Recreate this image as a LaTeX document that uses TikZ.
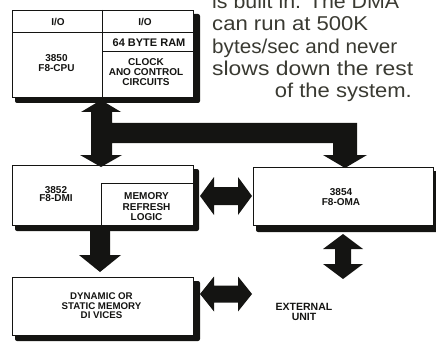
\documentclass[tikz,border=0pt]{standalone}
\usepackage{fontspec}
\setmainfont{Liberation Sans}
\usepackage{graphicx}
\definecolor{ink}{HTML}{141412}
\definecolor{paraink}{HTML}{3A3A32}
\tikzset{
  x=1pt,y=-1pt,
  box/.style={draw=ink, line width=1.4pt, fill=white, inner sep=0pt, anchor=north west},
  shad/.style={fill=ink, rounded corners=2pt},
  arr/.style={fill=ink},
  rule/.style={draw=ink, line width=1.4pt},
  lab/.style={font=\fontsize{10}{10}\selectfont\bfseries, text=ink, align=center, inner sep=0pt},
  paratext/.style={font=\fontsize{20}{22}\selectfont, text=paraink, inner sep=0pt},
}
\begin{document}
\begin{tikzpicture}
\useasboundingbox (0,0) rectangle (436,342);
\clip (0,0) rectangle (436,342);
% shadows
\fill[shad] (15,14) rectangle (200,103);
\fill[shad] (15,169) rectangle (199,231);
\fill[shad] (256,171) rectangle (441,232);
\fill[shad] (15,281) rectangle (200,341);
% boxes
\node[box, minimum width=181pt, minimum height=87pt] (cpu) at (12,10) {};
\node[box, minimum width=181pt, minimum height=60pt] (dmi) at (12,165) {};
\node[box, minimum width=180pt, minimum height=58pt] (dma) at (253,167) {};
\node[box, minimum width=181pt, minimum height=58pt] (mem) at (12,277) {};
% internal rules
\draw[rule] (12,32.5) -- (193,32.5);
\draw[rule] (102.5,10) -- (102.5,97);
\draw[rule] (102.5,51.5) -- (193,51.5);
\draw[rule] (101.5,225) -- (101.5,183.5) -- (193,183.5);
% bus
\fill[arr] (101,100) -- (121,112) -- (112,112) -- (112,123) -- (357,123) -- (357,155)
  -- (367,155) -- (345,168) -- (323,155) -- (333,155) -- (333,143) -- (112,143)
  -- (112,155) -- (122,155) -- (101,167) -- (80,155) -- (91,155) -- (91,112)
  -- (81,112) -- cycle;
% dmi to memory
\fill[arr] (90,231) -- (110,231) -- (110,255) -- (121,255) -- (100,272) -- (79,255) -- (90,255) -- cycle;
% dmi <-> dma
\fill[arr] (200,196) -- (214,177) -- (214,187) -- (238,187) -- (238,177) -- (252,196)
  -- (238,215) -- (238,205) -- (214,205) -- (214,215) -- cycle;
% memory <-> external
\fill[arr] (200,294) -- (214,276.5) -- (214,285.5) -- (238,285.5) -- (238,276.5) -- (252,294)
  -- (238,311.5) -- (238,302.5) -- (214,302.5) -- (214,311.5) -- cycle;
% dma <-> external
\fill[arr] (343,234) -- (363,249) -- (351,249) -- (351,264) -- (363,264) -- (343,279)
  -- (323,264) -- (335,264) -- (335,249) -- (323,249) -- cycle;
% labels
\node[lab] (io1) at (58,22) {I/O};
\node[lab] (io2) at (145,22) {I/O};
\node[lab, font=\fontsize{11}{11}\selectfont\bfseries] (ram) at (149,43) {64 BYTE RAM};
\node[lab, font=\fontsize{10}{10.2}\selectfont\bfseries] (clk) at (146,72.2) {CLOCK\\ANO CONTROL\\CIRCUITS};
\node[lab, font=\fontsize{10}{9.2}\selectfont\bfseries] (cpul) at (56.5,63) {3850\\F8-CPU};
\node[lab, font=\fontsize{10}{8.8}\selectfont\bfseries] (dmil) at (56,194) {3852\\F8-DMI};
\node[lab, font=\fontsize{10}{10.7}\selectfont\bfseries] (mrl) at (146.5,206.7) {MEMORY\\REFRESH\\LOGIC};
\node[lab, font=\fontsize{10}{10.6}\selectfont\bfseries] (dmal) at (341,197) {3854\\F8-OMA};
\node[lab, font=\fontsize{9.7}{9.7}\selectfont\bfseries] (meml) at (101.5,305.7) {DYNAMIC OR\\STATIC MEMORY\\DI VICES};
\node[lab, font=\fontsize{10.5}{10.5}\selectfont\bfseries] (ext) at (304,312) {EXTERNAL\\UNIT};
% paragraph
\node[paratext, anchor=base west] (p1) at (212,9) {\scalebox{1.067}[1]{is built in. The DMA}};
\node[paratext, anchor=base west] (p2) at (212,31) {\scalebox{1.105}[1]{can run at 500K}};
\node[paratext, anchor=base west] (p3) at (212,54) {\scalebox{1.034}[1]{bytes/sec and never}};
\node[paratext, anchor=base west] (p4) at (212,76) {\scalebox{1.145}[1]{slows down the rest}};
\node[paratext, anchor=base east] (p5) at (412,98) {\scalebox{1.10}[1]{of the system.}};
\end{tikzpicture}
\end{document}
